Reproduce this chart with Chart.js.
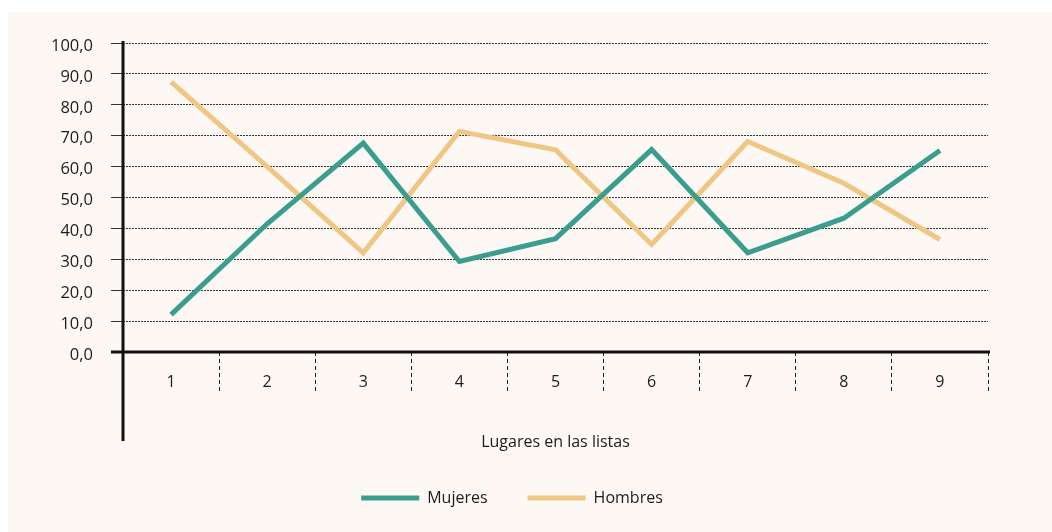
<!DOCTYPE html>
<html>
<head>
<meta charset="utf-8">
<script src="https://cdn.jsdelivr.net/npm/chart.js@4.4.0/dist/chart.umd.min.js"></script>
<style>
  body { margin: 0; background: #fff; }
  #panel { position: absolute; left: 8px; top: 12px; width: 1044px; height: 520px; background: #fdf8f4; }
</style>
</head>
<body>
<div id="panel"><canvas id="chart" width="1044" height="520"></canvas></div>
<script>
// data
const places = ['1', '2', '3', '4', '5', '6', '7', '8', '9'];
const mujeres = [12.1, 41.5, 67.6, 29.3, 36.7, 65.5, 32.1, 43.3, 65.2];
const hombres = [87.4, 60.0, 32.1, 71.4, 65.4, 34.8, 68.1, 54.6, 36.4];
const yMin = 0;
const yMax = 100;
const yStep = 10;
const xTitle = 'Lugares en las listas';

const teal = '#3a9e8f';
const sand = '#f0c684';
const ink = '#1c1c1c';
const font = '"Open Sans", "Noto Sans", sans-serif';

/* solid black axes, the y one runs down past the category labels */
const axisLines = {
  id: 'axisLines',
  afterDraw(chart) {
    const { ctx, chartArea, scales } = chart;
    const y0 = scales.y.getPixelForValue(yMin);
    const yTop = scales.y.getPixelForValue(yMax);
    ctx.save();
    ctx.strokeStyle = '#111';
    ctx.lineWidth = 3;
    ctx.beginPath();
    ctx.moveTo(chartArea.left - 12, y0);
    ctx.lineTo(chartArea.right + 2, y0);
    ctx.moveTo(chartArea.left, yTop - 2);
    ctx.lineTo(chartArea.left, chartArea.bottom + 89);
    ctx.stroke();
    ctx.restore();
  }
};

new Chart(document.getElementById('chart'), {
  type: 'line',
  data: {
    labels: places,
    datasets: [
      {
        label: 'Mujeres',
        data: mujeres,
        borderColor: teal,
        backgroundColor: teal,
        borderWidth: 5,
        pointRadius: 0,
        tension: 0,
        borderJoinStyle: 'miter'
      },
      {
        label: 'Hombres',
        data: hombres,
        borderColor: sand,
        backgroundColor: sand,
        borderWidth: 5,
        pointRadius: 0,
        tension: 0,
        borderJoinStyle: 'miter'
      }
    ]
  },
  options: {
    responsive: false,
    animation: false,
    devicePixelRatio: 1,
    layout: { padding: { left: 28, right: 64, top: 31, bottom: 16 } },
    plugins: {
      tooltip: { enabled: false },
      legend: {
        position: 'bottom',
        labels: {
          boxWidth: 58,
          boxHeight: 5,
          padding: 40,
          color: ink,
          font: { family: font, size: 16 },
          generateLabels(chart) {
            const items = Chart.defaults.plugins.legend.labels.generateLabels(chart);
            items.forEach(item => { item.lineWidth = 0; });
            return items;
          }
        }
      }
    },
    scales: {
      x: {
        offset: true,
        grid: {
          offset: true,
          drawOnChartArea: false,
          drawTicks: true,
          tickLength: 41,
          tickColor: '#222',
          tickWidth: 1,
          tickBorderDash: [4, 3]
        },
        border: { display: false },
        ticks: {
          color: ink,
          padding: -20,
          maxRotation: 0,
          autoSkip: false,
          font: { family: font, size: 16 }
        },
        title: {
          display: true,
          text: xTitle,
          color: ink,
          padding: { top: 4, bottom: -2 },
          font: { family: font, size: 16 }
        },
        afterFit(scale) { scale.height = 98; }
      },
      y: {
        min: yMin,
        max: yMax,
        grid: {
          color: c => (c.tick && c.tick.value === yMin ? 'rgba(0,0,0,0)' : '#333'),
          lineWidth: 1,
          tickLength: 12
        },
        border: { display: false, dash: [2, 1] },
        ticks: {
          stepSize: yStep,
          padding: 18,
          labelOffset: 3,
          color: ink,
          font: { family: font, size: 16.5 },
          callback: v => v.toFixed(1).replace('.', ',')
        },
        afterFit(scale) { scale.width = 87; }
      }
    }
  },
  plugins: [axisLines]
});
</script>
</body>
</html>
